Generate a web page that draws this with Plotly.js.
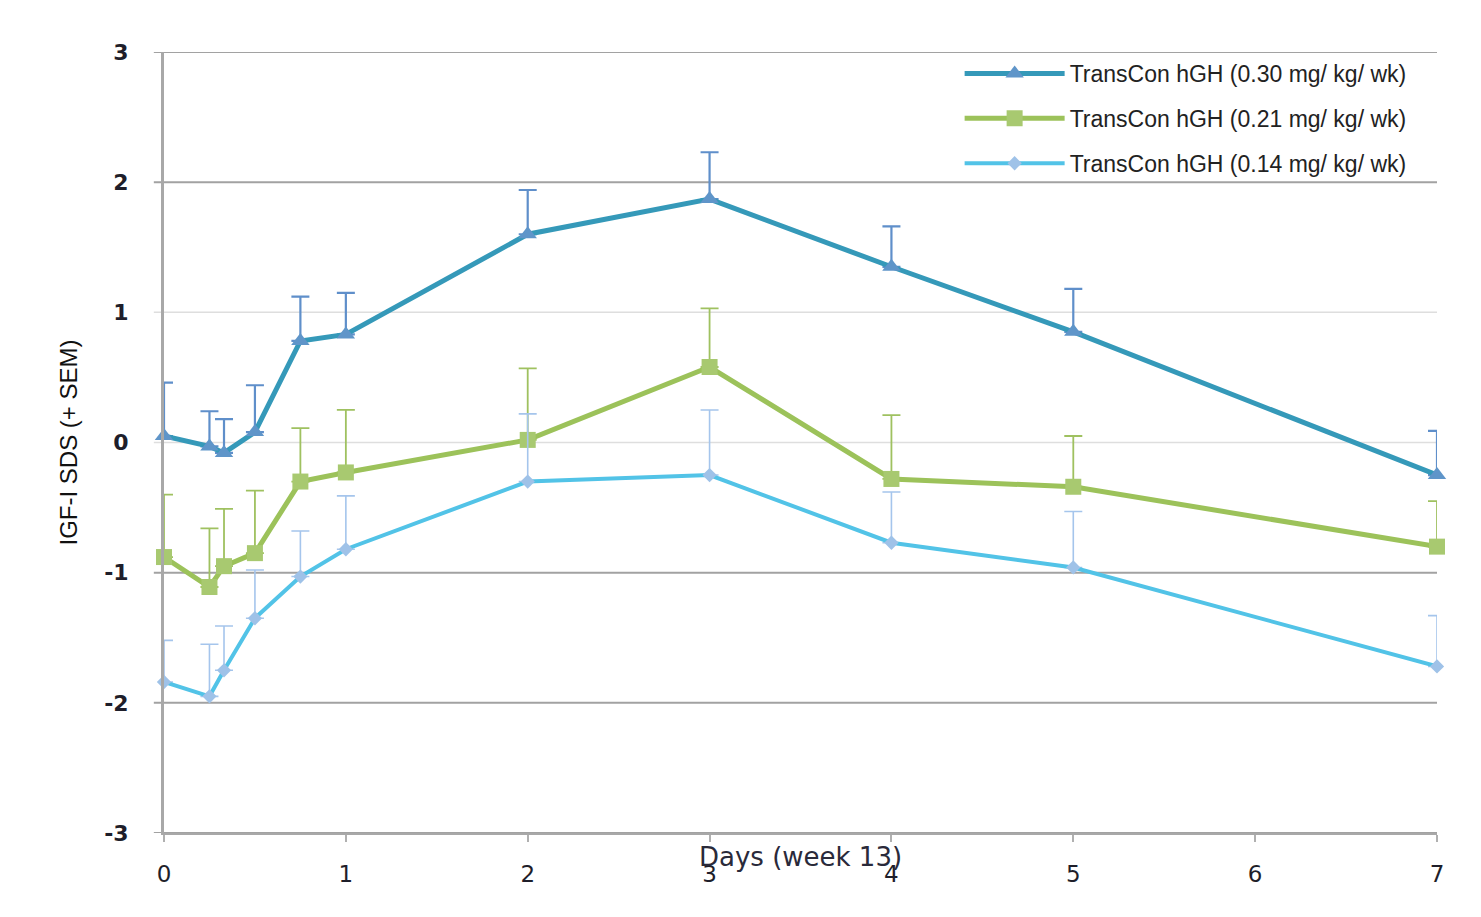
<!DOCTYPE html>
<html>
<head>
<meta charset="utf-8">
<script src="https://cdn.plot.ly/plotly-3.0.1.min.js"></script>
<style>html,body{margin:0;padding:0;background:#fff;}#chart{width:1481px;height:917px;}</style>
</head>
<body>
<div id="chart"></div>
<script>
const days = [0, 0.25, 0.33, 0.5, 0.75, 1, 2, 3, 4, 5, 7];
const seriesNames = ['TransCon hGH (0.30 mg/ kg/ wk)', 'TransCon hGH (0.21 mg/ kg/ wk)', 'TransCon hGH (0.14 mg/ kg/ wk)'];
const dose030 = [0.05, -0.03, -0.08, 0.08, 0.78, 0.83, 1.60, 1.87, 1.35, 0.85, -0.25];
const sem030  = [0.41, 0.27, 0.26, 0.36, 0.34, 0.32, 0.34, 0.36, 0.31, 0.33, 0.34];
const dose021 = [-0.88, -1.11, -0.95, -0.85, -0.30, -0.23, 0.02, 0.58, -0.28, -0.34, -0.80];
const sem021  = [0.48, 0.45, 0.44, 0.48, 0.41, 0.48, 0.55, 0.45, 0.49, 0.39, 0.35];
const dose014 = [-1.84, -1.95, -1.75, -1.35, -1.03, -0.82, -0.30, -0.25, -0.77, -0.96, -1.72];
const sem014  = [0.32, 0.40, 0.34, 0.37, 0.35, 0.41, 0.52, 0.50, 0.39, 0.43, 0.39];
const xTicks = [0, 1, 2, 3, 4, 5, 6, 7];
const yTicks = [-3, -2, -1, 0, 1, 2, 3];
const yTickText = ['-3', '-2', '-1', '0', '1', '2', '3'];
const xTitle = 'Days (week 13)';
const yTitle = 'IGF-I SDS (+ SEM)';

function zeros(a){ return a.map(function(){ return 0; }); }

const traces = [
  {
    x: days, y: dose030, name: seriesNames[0], type: 'scatter', mode: 'lines+markers',
    legendgroup: 'a', cliponaxis: false,
    line: {color: '#3599b9', width: 5},
    marker: {symbol: 'triangle-up', size: 16, color: '#5f95c9'},
    error_y: {type: 'data', symmetric: false, array: sem030, arrayminus: zeros(sem030), color: '#5f8fca', thickness: 2.2, width: 9}
  },
  {
    x: days, y: dose021, name: seriesNames[1], type: 'scatter', mode: 'lines+markers',
    legendgroup: 'b', cliponaxis: false,
    line: {color: '#9cc25a', width: 5},
    marker: {symbol: 'square', size: 16, color: '#a8c970'},
    error_y: {type: 'data', symmetric: false, array: sem021, arrayminus: zeros(sem021), color: '#9fc160', thickness: 1.8, width: 9}
  },
  {
    x: days, y: dose014, name: seriesNames[2], type: 'scatter', mode: 'lines+markers',
    legendgroup: 'c', cliponaxis: false,
    line: {color: '#52c3e7', width: 4},
    marker: {symbol: 'diamond', size: 11, color: '#9fc2e8'},
    error_y: {type: 'data', symmetric: false, array: sem014, arrayminus: zeros(sem014), color: '#a5c5ec', thickness: 1.6, width: 9}
  }
];

const shapes = yTicks.map(function(v){
  const light = (v === 0 || v === 1);
  return {type: 'line', xref: 'paper', yref: 'y', x0: -0.008, x1: 1, y0: v, y1: v,
          layer: 'below', line: {color: light ? '#dedede' : '#a2a2a2', width: light ? 1.5 : 2}};
});

const layout = {
  width: 1481, height: 917,
  margin: {l: 164, r: 44, t: 52, b: 84},
  paper_bgcolor: '#ffffff', plot_bgcolor: '#ffffff',
  showlegend: true,
  legend: {
    x: 0.625, y: 1.0, xanchor: 'left', yanchor: 'top',
    bgcolor: 'rgba(0,0,0,0)', borderwidth: 0,
    font: {family: 'Liberation Sans, Arial, sans-serif', size: 23, color: '#222222'},
    itemwidth: 100, tracegroupgap: 12, traceorder: 'grouped'
  },
  xaxis: {
    range: [0, 7], tickvals: xTicks, ticktext: xTicks.map(String),
    showgrid: false, zeroline: false,
    showline: true, linecolor: '#a8a8a8', linewidth: 2,
    ticks: 'outside', ticklen: 7, tickwidth: 2, tickcolor: '#b0b0b0',
    ticklabelstandoff: 12,
    tickfont: {family: 'DejaVu Sans, Verdana, sans-serif', size: 23, color: '#1e1e2a'}
  },
  yaxis: {
    range: [-3, 3], tickvals: yTicks, ticktext: yTickText,
    showgrid: false, zeroline: false,
    showline: true, linecolor: '#a8a8a8', linewidth: 3,
    ticks: '', ticklabelstandoff: 28,
    tickfont: {family: 'DejaVu Sans, Verdana, sans-serif', size: 22, color: '#1e1e2a', weight: 'bold'},
    title: {text: yTitle, standoff: 20, font: {family: 'Liberation Sans, Arial, sans-serif', size: 24, color: '#111111'}}
  },
  shapes: shapes,
  annotations: [{
    text: xTitle, xref: 'paper', yref: 'paper', x: 0.5, y: -0.031,
    xanchor: 'center', yanchor: 'middle', showarrow: false,
    font: {family: 'DejaVu Sans, Verdana, sans-serif', size: 26, color: '#2a2a3a'}
  }]
};

Plotly.newPlot('chart', traces, layout, {displayModeBar: false, staticPlot: true});
</script>
</body>
</html>
